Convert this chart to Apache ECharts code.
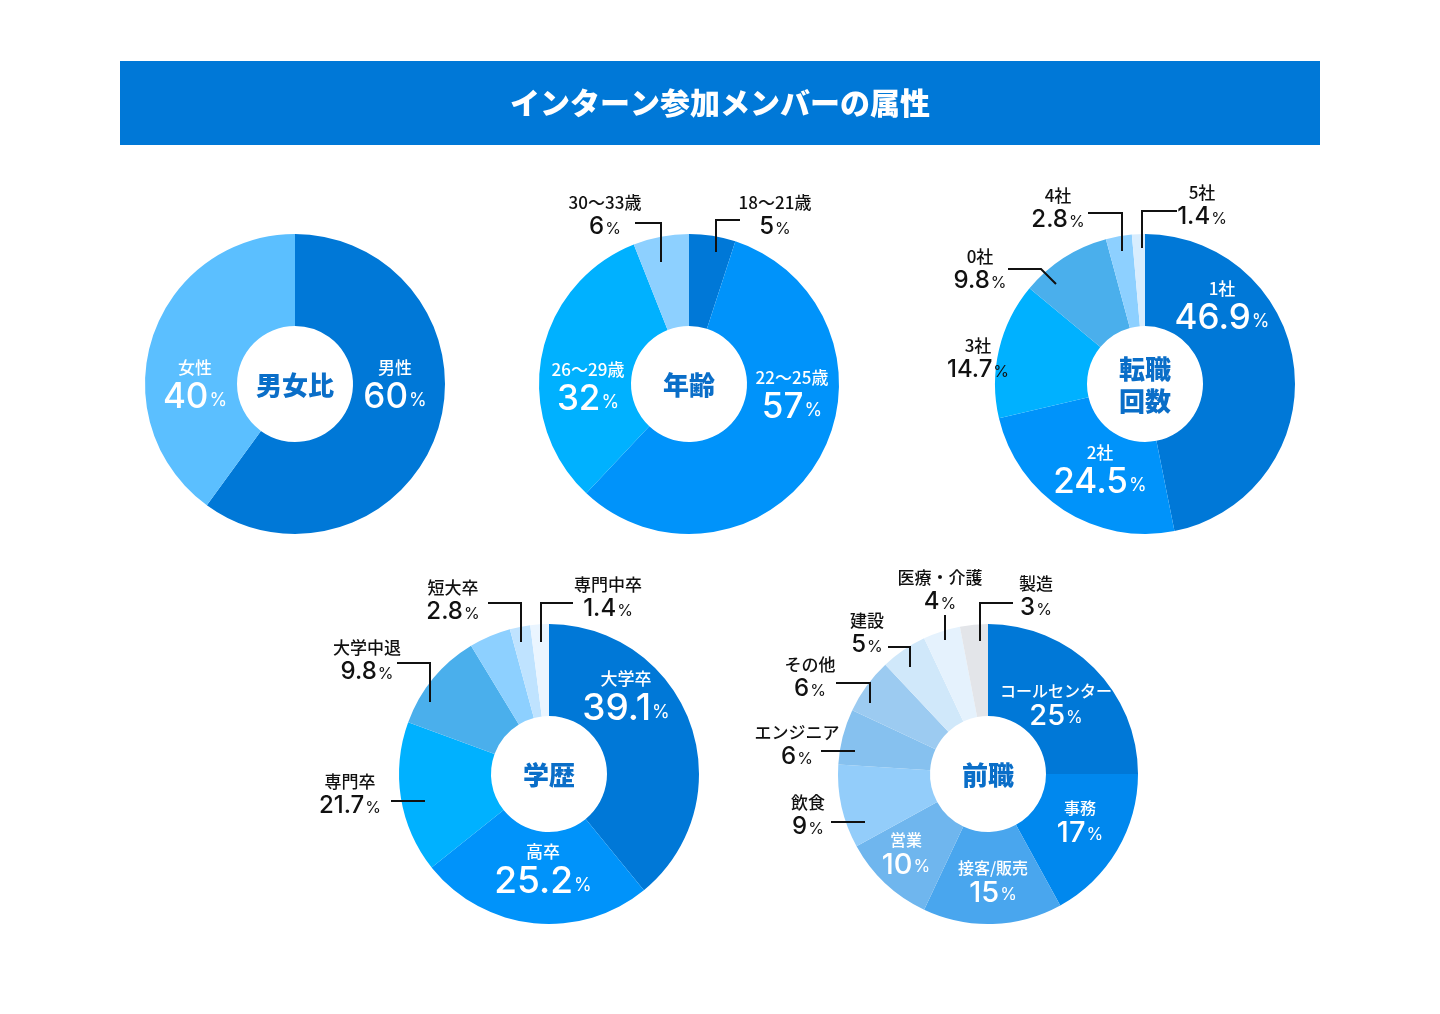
<!DOCTYPE html>
<html><head><meta charset="utf-8">
<script src="https://cdn.jsdelivr.net/npm/echarts@6/dist/echarts.min.js"></script>
<style>html,body{margin:0;padding:0;background:#fff}#c{width:1440px;height:1014px}</style>
</head><body><div id="c"></div>
<script>
// ---------- data ----------
const titleText = 'インターン参加メンバーの属性';

const genderTitle = '男女比';
const genderNames = ['男性', '女性'];
const genderValues = [60, 40];

const ageTitle = '年齢';
const ageNames = ['18〜21歳', '22〜25歳', '26〜29歳', '30〜33歳'];
const ageValues = [5, 57, 32, 6];

const turnTitle = '転職\n回数';
const turnNames = ['1社', '2社', '3社', '0社', '4社', '5社'];
const turnValues = [46.9, 24.5, 14.7, 9.8, 2.8, 1.4];

const eduTitle = '学歴';
const eduNames = ['大学卒', '高卒', '専門卒', '大学中退', '', '短大卒', '専門中卒'];
const eduValues = [39.1, 25.2, 16.3, 10.7, 4.5, 2.2, 2.0];      // slice sizes as drawn
const eduPrinted = ['39.1', '25.2', '21.7', '9.8', '', '2.8', '1.4']; // percentages as printed

const jobTitle = '前職';
const jobNames = ['コールセンター', '事務', '接客/販売', '営業', '飲食', 'エンジニア', 'その他', '建設', '医療・介護', '製造'];
const jobValues = [25, 17, 15, 10, 9, 6, 6, 5, 4, 3];

// ---------- styles / layout ----------
const DARK = '#0078d7', BRIGHT = '#0093fa', CYAN = '#00b1ff', MID = '#4aafec', LIGHT = '#8dd0ff';
const NUMFONT = 'Inter, "Noto Sans CJK JP", sans-serif';
const JPFONT = '"Noto Sans CJK JP", sans-serif';

const KIND = {
  in:  {nh: 24, ns: 17, nc: '#fff', vs: 35, vh: 34, ps: 18, vc: '#fff'},
  inL: {nh: 24, ns: 17, nc: '#fff', vs: 37, vh: 36, ps: 18, vc: '#fff'},
  in2: {nh: 22, ns: 16, nc: '#fff', vs: 29, vh: 28, ps: 17, vc: '#fff'},
  out: {nh: 20, ns: 17, nc: '#111', vs: 24, vh: 28, ps: 16, vc: '#111'}
};

const charts = [
  { title: genderTitle, names: genderNames, values: genderValues, center: [295, 384],
    colors: [DARK, '#5bbfff'],
    labels: [ {k: 'in', at: [100, -16]}, {k: 'in', at: [-100, -16]} ] },
  { title: ageTitle, names: ageNames, values: ageValues, center: [689, 384],
    colors: [DARK, BRIGHT, CYAN, LIGHT],
    labels: [
      {k: 'out', at: [86, -181], line: [[27, -132], [27, -164], [51, -164]]},
      {k: 'in', at: [103, -6]},
      {k: 'in', at: [-101, -14]},
      {k: 'out', at: [-84, -181], line: [[-28, -122], [-28, -161], [-54, -161]]}
    ] },
  { title: turnTitle, names: turnNames, values: turnValues, center: [1145, 384],
    colors: [DARK, BRIGHT, CYAN, MID, LIGHT, '#d8edfe'],
    labels: [
      {k: 'in', at: [77, -95]},
      {k: 'in', at: [-45, 69]},
      {k: 'out', at: [-167, -38]},
      {k: 'out', at: [-165, -127], line: [[-89, -100], [-104, -115], [-137, -115]]},
      {k: 'out', at: [-87, -188], line: [[-23, -133], [-23, -171], [-57, -171]]},
      {k: 'out', at: [57, -191], line: [[-3, -136], [-3, -173], [32, -173]]}
    ] },
  { title: eduTitle, names: eduNames, values: eduValues, printed: eduPrinted, center: [549, 774],
    colors: [DARK, BRIGHT, CYAN, MID, LIGHT, '#bfe3ff', '#eaf5ff'],
    labels: [
      {k: 'inL', at: [77, -95]},
      {k: 'inL', at: [-6, 78]},
      {k: 'out', at: [-199, 8], line: [[-124, 27], [-158, 27]]},
      {k: 'out', at: [-182, -126], line: [[-119, -72], [-119, -111], [-152, -111]]},
      null,
      {k: 'out', at: [-96, -186], line: [[-28, -132], [-28, -171], [-61, -171]]},
      {k: 'out', at: [59, -189], line: [[-8, -132], [-8, -171], [24, -171]]}
    ] },
  { title: jobTitle, names: jobNames, values: jobValues, center: [988, 774],
    colors: [DARK, '#0088ee', '#49a6ee', '#6fb6ee', '#93cdfa', '#86c1ef', '#9ccbf1', '#d0e8fa', '#e5f2fd', '#e3e5e9'],
    labels: [
      {k: 'in2', at: [68, -83]},
      {k: 'in2', at: [92, 34]},
      {k: 'in2', at: [5, 94]},
      {k: 'in2', at: [-82, 66]},
      {k: 'out', at: [-180, 29], line: [[-123, 48], [-157, 48]]},
      {k: 'out', at: [-191, -41], line: [[-133, -23], [-167, -23]]},
      {k: 'out', at: [-178, -109], line: [[-118, -71], [-118, -91], [-152, -91]]},
      {k: 'out', at: [-121, -153], line: [[-78, -107], [-78, -127], [-100, -127]]},
      {k: 'out', at: [-48, -196], line: [[-43, -134], [-43, -159]]},
      {k: 'out', at: [48, -190], line: [[-8, -133], [-8, -171], [25, -171]]}
    ] }
];

function richFor(kind) {
  const s = KIND[kind];
  const r = {};
  r[kind + 'n'] = {fontFamily: JPFONT, fontSize: s.ns, fontWeight: 500, lineHeight: s.nh, color: s.nc, align: 'center'};
  r[kind + 'v'] = {fontFamily: NUMFONT, fontSize: s.vs, lineHeight: s.vh, color: s.vc, fontWeight: 500};
  r[kind + 'p'] = {fontFamily: NUMFONT, fontSize: s.ps, lineHeight: s.vh, color: s.vc, fontWeight: 400, verticalAlign: 'bottom', padding: [0, 0, Math.round(s.vh * 0.13), 1]};
  return r;
}
const rich = Object.assign({}, richFor('in'), richFor('inL'), richFor('in2'), richFor('out'));

const series = charts.map(function (c) {
  return {
    type: 'pie',
    center: c.center,
    radius: [58, 150],
    startAngle: 90,
    clockwise: true,
    silent: true,
    animation: false,
    avoidLabelOverlap: false,
    itemStyle: {borderWidth: 0},
    emphasis: {disabled: true},
    data: c.values.map(function (v, i) {
      const spec = c.labels[i];
      const item = {name: c.names[i], value: v, itemStyle: {color: c.colors[i]}};
      if (!spec) {
        item.label = {show: false};
      } else {
        item.label = {show: true, position: spec.k === 'out' ? 'outside' : 'inside'};
      }
      return item;
    }),
    label: {
      show: true,
      rich: rich,
      formatter: function (p) {
        const spec = c.labels[p.dataIndex];
        if (!spec) return '';
        const txt = c.printed ? c.printed[p.dataIndex] : String(p.value);
        const k = spec.k;
        return '{' + k + 'n|' + p.name + '}\n{' + k + 'v|' + txt + '}{' + k + 'p|%}';
      }
    },
    labelLine: {show: false},
    labelLayout: function (p) {
      const spec = c.labels[p.dataIndex];
      if (!spec) return {};
      const s = KIND[spec.k];
      return {
        x: c.center[0] + spec.at[0],
        y: c.center[1] + spec.at[1] - s.nh / 2,
        align: 'center',
        verticalAlign: 'top'
      };
    }
  };
});

// leader lines (drawn above the slices), relative to each donut centre
const leaders = [];
charts.forEach(function (c) {
  c.labels.forEach(function (spec) {
    if (spec && spec.line) {
      leaders.push({type: 'polyline', z: 100, silent: true,
        shape: {points: spec.line.map(function (q) { return [c.center[0] + q[0], c.center[1] + q[1]]; })},
        style: {stroke: '#111', lineWidth: 2, fill: null, lineJoin: 'miter'}});
    }
  });
});

const graphic = [
  {type: 'rect', shape: {x: 120, y: 61, width: 1200, height: 84}, style: {fill: DARK}, silent: true},
  {type: 'text', x: 720, y: 103, style: {text: titleText, fill: '#fff', font: '900 30px "Noto Sans CJK JP", sans-serif', align: 'center', verticalAlign: 'middle'}, silent: true}
].concat(charts.map(function (c) {
  return {type: 'text', x: c.center[0], y: c.center[1] + 1, z: 100,
    style: {text: c.title, fill: '#0a6ec8', font: '900 26px "Noto Sans CJK JP", sans-serif', lineHeight: 32, align: 'center', verticalAlign: 'middle'}, silent: true};
})).concat(leaders);

const chart = echarts.init(document.getElementById('c'), null, {renderer: 'canvas'});
chart.setOption({backgroundColor: '#fff', animation: false, series: series, graphic: graphic});
</script>
</body></html>
